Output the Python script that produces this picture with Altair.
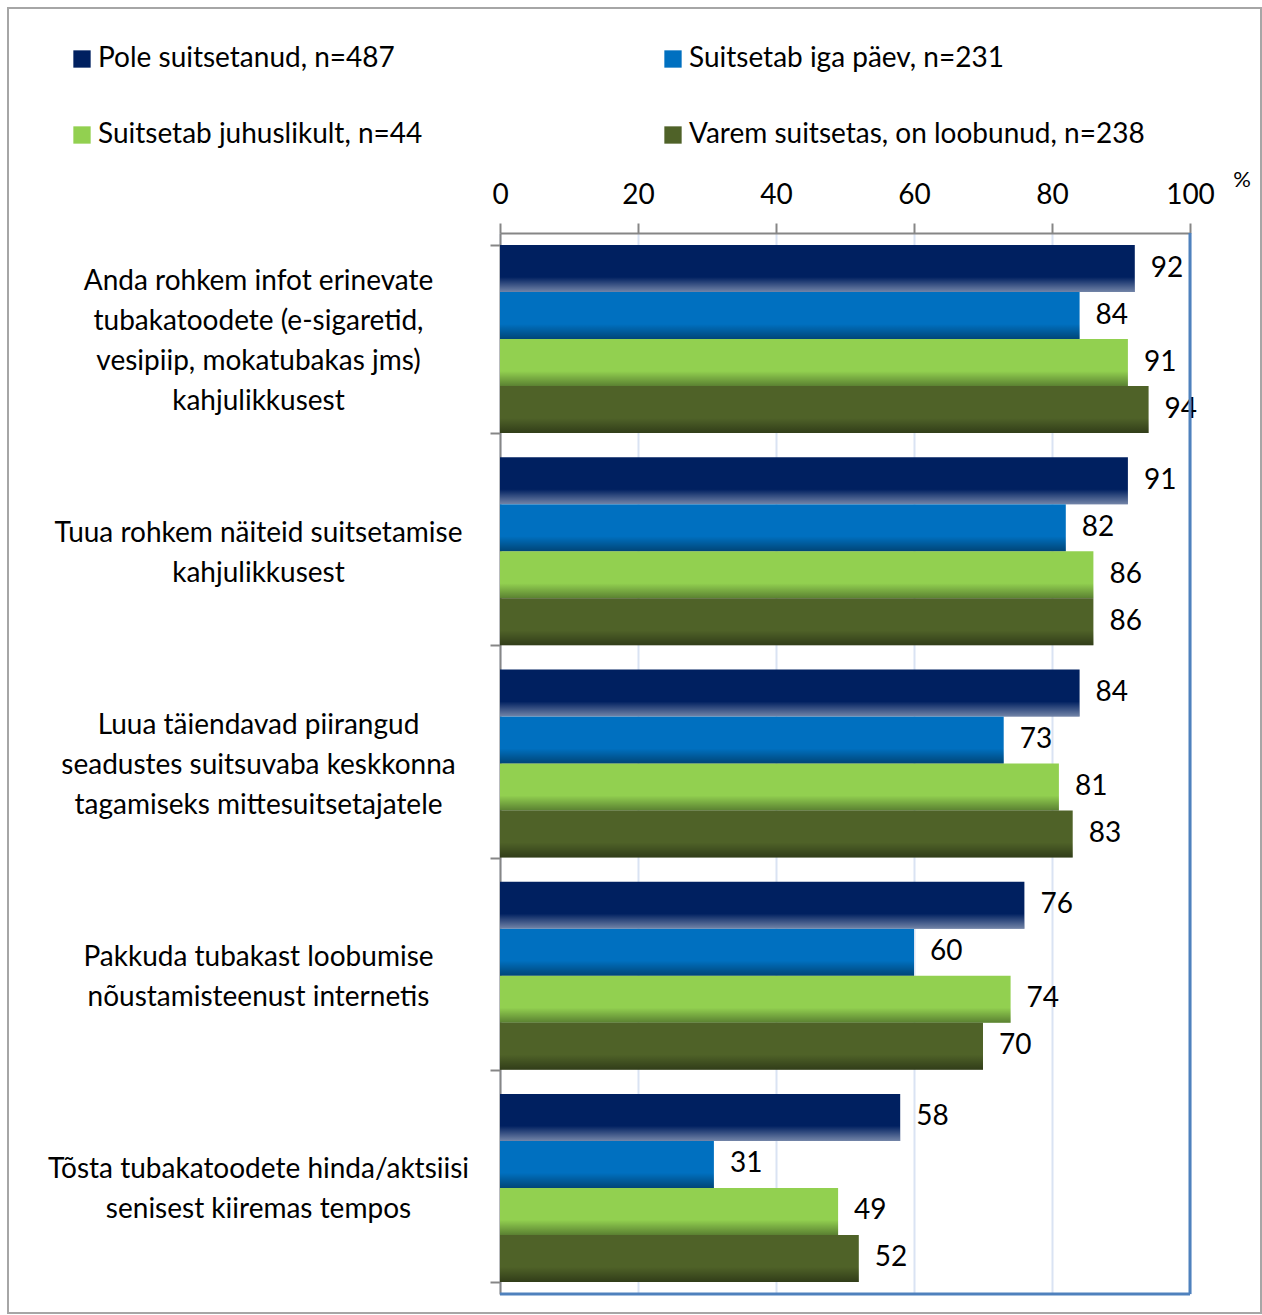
import altair as alt
import pandas as pd

categories = [
    "Anda rohkem infot erinevate|tubakatoodete (e-sigaretid,|vesipiip, mokatubakas jms)|kahjulikkusest",
    "Tuua rohkem näiteid suitsetamise|kahjulikkusest",
    "Luua täiendavad piirangud|seadustes suitsuvaba keskkonna|tagamiseks mittesuitsetajatele",
    "Pakkuda tubakast loobumise|nõustamisteenust internetis",
    "Tõsta tubakatoodete hinda/aktsiisi|senisest kiiremas tempos",
]
series = [
    "Pole suitsetanud, n=487",
    "Suitsetab iga päev, n=231",
    "Suitsetab juhuslikult, n=44",
    "Varem suitsetas, on loobunud, n=238",
]
colors = ["#002060", "#0070C0", "#92D050", "#4F6228"]
values = {
    series[0]: [92, 91, 84, 76, 58],
    series[1]: [84, 82, 73, 60, 31],
    series[2]: [91, 86, 81, 74, 49],
    series[3]: [94, 86, 83, 70, 52],
}
x_ticks = [0, 20, 40, 60, 80, 100]

rows = []
for s in series:
    for c, v in zip(categories, values[s]):
        rows.append({"category": c, "series": s, "value": v})
df = pd.DataFrame(rows)

FONT = "Lato"
FS = 28
W, H = 690, 1061
LH = 40

y_enc = alt.Y(
    "category:N",
    sort=categories,
    scale=alt.Scale(paddingInner=0.114, paddingOuter=0.057),
    axis=alt.Axis(
        title=None,
        labelExpr="split(datum.label, '|')",
        labelAlign="center",
        labelBaseline="middle",
        labelPadding=232,
        labelLineHeight=LH,
        labelOffset={
            "condition": [
                {"test": "length(split(datum.value, '|')) == 4", "value": -1.5 * LH + 2},
                {"test": "length(split(datum.value, '|')) == 3", "value": -1.0 * LH + 2},
                {"test": "length(split(datum.value, '|')) == 2", "value": -0.5 * LH + 2},
            ],
            "value": 2,
        },
        labelFontSize=FS,
        labelFont=FONT,
        labelColor="#000000",
        labelLimit=600,
        tickBand="extent",
        tickSize=10,
        tickColor="#868686",
        tickWidth=2,
        domainColor="#868686",
        domainWidth=2,
        grid=False,
    ),
)
x_enc = alt.X(
    "value:Q",
    scale=alt.Scale(domain=[0, 100], nice=False),
    axis=alt.Axis(
        orient="top",
        title=None,
        values=x_ticks,
        labelFontSize=FS,
        labelFont=FONT,
        labelColor="#000000",
        labelPadding=14,
        labelFlush=False,
        tickSize=10,
        tickColor="#868686",
        tickWidth=2,
        domainColor="#868686",
        domainWidth=2,
        grid=True,
        gridColor="#dae3f3",
        gridWidth=2,
    ),
)
yoff = alt.YOffset("series:N", sort=series, scale=alt.Scale(paddingInner=0, paddingOuter=0))

base = alt.Chart(df)

bars = base.mark_bar().encode(
    x=x_enc,
    y=y_enc,
    yOffset=yoff,
    color=alt.Color(
        "series:N",
        sort=series,
        scale=alt.Scale(domain=series, range=colors),
        legend=alt.Legend(
            title=None,
            orient="none",
            direction="horizontal",
            legendX=-432,
            legendY=-188,
            columns=2,
            columnPadding=236,
            rowPadding=48,
            symbolType="square",
            symbolSize=300,
            symbolStrokeWidth=0,
            labelFontSize=FS,
            labelFont=FONT,
            labelColor="#000000",
            labelOffset=2,
            labelLimit=600,
        ),
    ),
)

dark_shade = alt.Gradient(
    gradient="linear", x1=0, x2=0, y1=0, y2=1,
    stops=[
        alt.GradientStop(color="rgba(0,0,0,0)", offset=0),
        alt.GradientStop(color="rgba(0,0,0,0)", offset=0.68),
        alt.GradientStop(color="rgba(0,0,0,0.38)", offset=1),
    ],
)
light_shade = alt.Gradient(
    gradient="linear", x1=0, x2=0, y1=0, y2=1,
    stops=[
        alt.GradientStop(color="rgba(255,255,255,0)", offset=0),
        alt.GradientStop(color="rgba(255,255,255,0)", offset=0.68),
        alt.GradientStop(color="rgba(255,255,255,0.45)", offset=1),
    ],
)
shade_dark = base.transform_filter(alt.datum.series != series[0]).mark_bar(fill=dark_shade).encode(
    x="value:Q", y=alt.Y("category:N", sort=categories), yOffset=yoff
)
shade_light = base.transform_filter(alt.datum.series == series[0]).mark_bar(fill=light_shade).encode(
    x="value:Q", y=alt.Y("category:N", sort=categories), yOffset=yoff
)

labels = base.mark_text(align="left", baseline="middle", dx=16, fontSize=FS, font=FONT, color="#000000").encode(
    x="value:Q",
    y=alt.Y("category:N", sort=categories),
    yOffset=yoff,
    text="value:Q",
)

frame_data = alt.Data(values=[{"v": 100}])
right_border = alt.Chart(frame_data).mark_rule(color="#4f81bd", strokeWidth=3).encode(x=alt.X("v:Q"))
bottom_border = alt.Chart(frame_data).mark_rule(color="#4f81bd", strokeWidth=3).encode(
    y=alt.value(H), x=alt.value(0), x2=alt.value(W)
)
outer = alt.Chart(frame_data).mark_rect(fill="white", fillOpacity=0, stroke="#a6a6a6", strokeWidth=2).encode(
    x=alt.value(-492), x2=alt.value(761), y=alt.value(-225), y2=alt.value(1080)
)
pct = alt.Chart(frame_data).mark_text(fontSize=22, font=FONT, color="#000000", align="center", baseline="middle").encode(
    x=alt.value(742), y=alt.value(-53), text=alt.value("%")
)

chart = alt.layer(outer, bars, shade_dark, shade_light, labels, right_border, bottom_border, pct).properties(
    width=W,
    height=H,
    autosize=alt.AutoSizeParams(type="none"),
    padding={"left": 500, "top": 233, "right": 72, "bottom": 21},
    background="white",
).configure_view(stroke=None)

chart.save("out.html", embed_options={"renderer": "svg", "actions": False})
